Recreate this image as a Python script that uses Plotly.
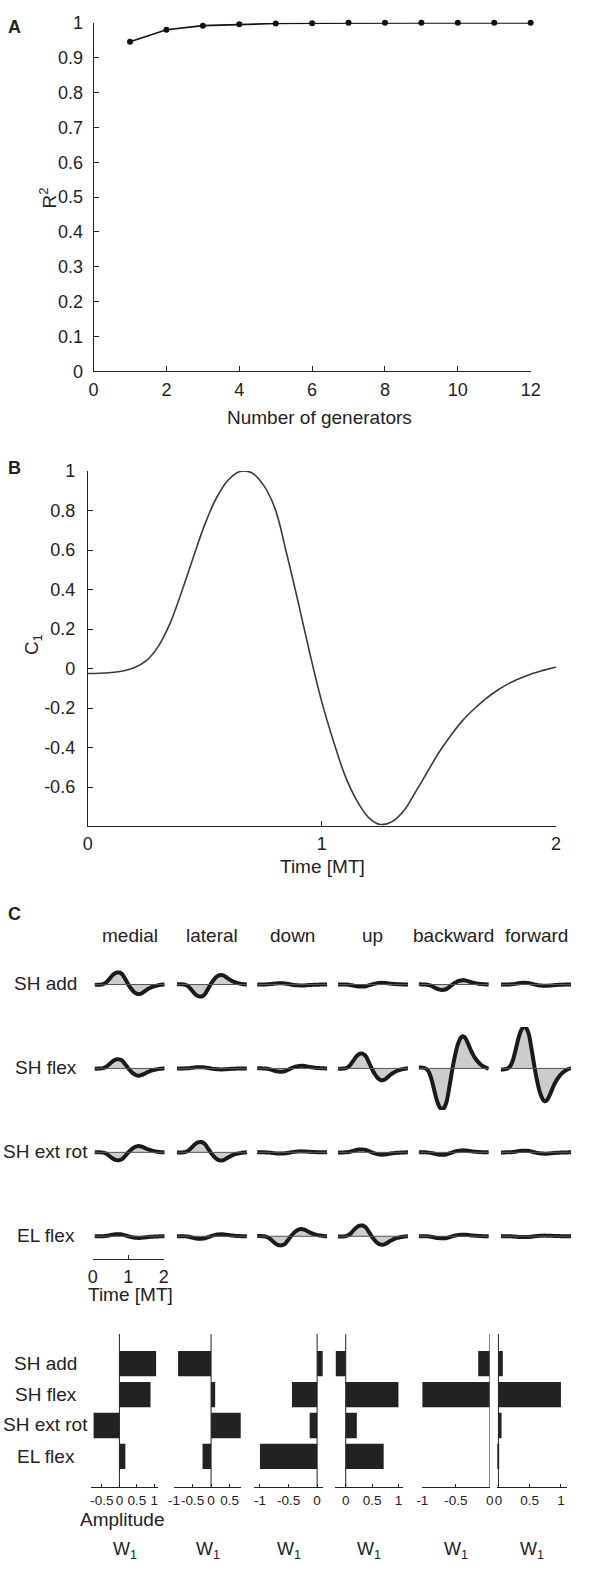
import plotly.graph_objects as go

W_PX, H_PX = 601, 1579
FONT = "Liberation Sans, Arial, Helvetica, sans-serif"
INK = "#222222"

# ---------------- data ----------------
n_generators = [1, 2, 3, 4, 5, 6, 7, 8, 9, 10, 11, 12]
r_squared = [0.946, 0.980, 0.992, 0.996, 0.998, 0.999, 1.0, 1.0, 1.0, 1.0, 1.0, 1.0]

time_mt = [round(0.05 * i, 2) for i in range(41)]
c1_values = [-0.025, -0.024, -0.02, -0.012, 0.005, 0.04, 0.11, 0.225, 0.385, 0.56,
             0.73, 0.865, 0.955, 0.998, 0.992, 0.93, 0.81, 0.58, 0.33, 0.07,
             -0.17, -0.37, -0.545, -0.67, -0.755, -0.79, -0.775, -0.72, -0.625, -0.525,
             -0.425, -0.34, -0.265, -0.205, -0.153, -0.11, -0.075, -0.048, -0.025, -0.008, 0.008]

directions = ["medial", "lateral", "down", "up", "backward", "forward"]
joints = ["SH add", "SH flex", "SH ext rot", "EL flex"]

# amplitude of each displayed profile (profile = amp * C1), rows = joints, cols = directions
profile_amp_sh_add = [0.29, -0.29, 0.03, -0.05, -0.13, 0.04]
profile_amp_sh_flex = [0.22, 0.03, -0.08, 0.36, -0.98, 1.0]
profile_amp_sh_extrot = [-0.19, 0.25, -0.03, 0.07, -0.06, 0.04]
profile_amp_el_flex = [0.05, -0.06, -0.22, 0.26, -0.05, -0.02]
profile_amps = [profile_amp_sh_add, profile_amp_sh_flex, profile_amp_sh_extrot, profile_amp_el_flex]

# W1 amplitudes per direction (SH add, SH flex, SH ext rot, EL flex)
w1_medial = [1.05, 0.89, -0.74, 0.17]
w1_lateral = [-0.89, 0.11, 0.80, -0.23]
w1_down = [0.10, -0.44, -0.13, -1.0]
w1_up = [-0.19, 1.0, 0.21, 0.72]
w1_backward = [-0.17, -1.0, 0.0, 0.0]
w1_forward = [0.07, 1.0, 0.05, -0.02]
w1_all = [w1_medial, w1_lateral, w1_down, w1_up, w1_backward, w1_forward]

bar_ranges = [[-0.8, 1.1], [-1.0, 0.82], [-1.1, 0.1], [-0.2, 1.08], [-1.0, 0.0], [-0.02, 1.09]]
bar_ticks = [[-0.5, 0, 0.5, 1], [-1, -0.5, 0, 0.5], [-1, -0.5, 0], [0, 0.5, 1], [-1, -0.5, 0], [0, 0.5, 1]]


def fmt(v):
    return "%g" % v


# ---------------- layout helpers ----------------
def xd(a, b):
    return [a / W_PX, b / W_PX]


def yd(top, bot):
    return [1 - bot / H_PX, 1 - top / H_PX]


fig = go.Figure()
layout = dict(
    width=W_PX, height=H_PX, margin=dict(l=0, r=0, t=0, b=0),
    paper_bgcolor="white", plot_bgcolor="white", showlegend=False,
    font=dict(family=FONT, size=18, color=INK),
)
annotations = []
shapes = []


def ann(text, x, y, size=19, bold=False, angle=0, xanchor="center"):
    if bold:
        text = "<b>%s</b>" % text
    annotations.append(dict(text=text, x=x / W_PX, y=1 - y / H_PX, xref="paper", yref="paper",
                            showarrow=False, xanchor=xanchor, yanchor="middle",
                            textangle=angle, font=dict(family=FONT, size=size, color=INK)))


axis_common = dict(showgrid=False, zeroline=False, showline=True, linecolor=INK, linewidth=1,
                   ticks="inside", tickcolor=INK, tickwidth=1, tickangle=0)

# ---------------- Panel A ----------------
layout["xaxis"] = dict(axis_common, domain=xd(90, 539), range=[0, 12], anchor="y",
                       tickvals=[0, 2, 4, 6, 8, 10, 12], ticklen=5, tickfont=dict(size=18),
                       ticklabelstandoff=2)
yt = [i / 10 for i in range(11)]
layout["yaxis"] = dict(axis_common, domain=yd(13, 366), range=[0, 1], anchor="x",
                       tickvals=yt, ticktext=[fmt(v) for v in yt], ticklen=5,
                       tickfont=dict(size=18), ticklabelstandoff=6)
fig.add_trace(go.Scatter(x=n_generators, y=r_squared, mode="lines+markers", xaxis="x", yaxis="y",
                         line=dict(color="#111", width=1.6), marker=dict(size=6, color="#111"),
                         cliponaxis=False))
ann("A", 9, 17, size=18, bold=True)
ann("Number of generators", 322, 413)
ann("R<sup>2</sup>", 43, 190, angle=-90)

# ---------------- Panel B ----------------
layout["xaxis2"] = dict(axis_common, domain=xd(84, 565), range=[0, 2], anchor="y2",
                        tickvals=[0, 1, 2], ticklen=5, tickfont=dict(size=18), ticklabelstandoff=2)
ybt = [-0.6, -0.4, -0.2, 0, 0.2, 0.4, 0.6, 0.8, 1]
layout["yaxis2"] = dict(axis_common, domain=yd(467, 826), range=[-0.795, 1], anchor="x2",
                        tickvals=ybt, ticktext=[fmt(v) for v in ybt], ticklen=5,
                        tickfont=dict(size=18), ticklabelstandoff=8)
fig.add_trace(go.Scatter(x=time_mt, y=c1_values, mode="lines", xaxis="x2", yaxis="y2",
                         line=dict(color="#3a3a3a", width=1.6, shape="spline"), cliponaxis=False))
ann("B", 9, 464, size=18, bold=True)
ann("Time [MT]", 325, 867)
ann("C<sub>1</sub>", 28, 643, angle=-90)

# ---------------- Panel C profiles ----------------
col_x0 = [91, 175.5, 258, 341, 424, 508.5]
col_w = 72
row_base = [987, 1072, 1157, 1242]
half_h = 42
ann("C", 9, 916, size=18, bold=True)
for c, d in enumerate(directions):
    ann(d, col_x0[c] + col_w / 2, 937)
for r, j in enumerate(joints):
    ann(j, 41, row_base[r] - 1)

for r in range(4):
    for c in range(6):
        idx = 3 + r * 6 + c
        xa, ya = "x%d" % idx, "y%d" % idx
        layout["xaxis%d" % idx] = dict(domain=xd(col_x0[c], col_x0[c] + col_w), range=[0, 2],
                                       visible=False, anchor=ya)
        layout["yaxis%d" % idx] = dict(domain=yd(row_base[r] - half_h, row_base[r] + half_h),
                                       range=[-1, 1], visible=False, anchor=xa)
        amp = profile_amps[r][c]
        vals = [amp * v for v in c1_values]
        fig.add_trace(go.Scatter(x=time_mt, y=vals, mode="lines", xaxis=xa, yaxis=ya,
                                 fill="tozeroy", fillcolor="#cdcdcd",
                                 line=dict(width=0, shape="spline", color="#cdcdcd"),
                                 cliponaxis=False))
        fig.add_trace(go.Scatter(x=time_mt, y=vals, mode="lines", xaxis=xa, yaxis=ya,
                                 line=dict(width=4, shape="spline", color="#1a1a1a"),
                                 cliponaxis=False))
        shapes.append(dict(type="line", xref="%s domain" % xa, yref=ya, x0=0, x1=1, y0=0, y1=0,
                           line=dict(color="#555", width=1), layer="above"))

# time scale bar
layout["xaxis33"] = dict(axis_common, domain=xd(89, 162), range=[0, 2], anchor="y33",
                         tickvals=[0, 1, 2], ticklen=4, tickfont=dict(size=18), ticklabelstandoff=1)
layout["yaxis33"] = dict(domain=yd(1255, 1265), range=[0, 1], visible=False, anchor="x33")
fig.add_trace(go.Scatter(x=[], y=[], xaxis="x33", yaxis="y33", mode="lines"))
ann("Time [MT]", 128, 1301)

# ---------------- Panel C bars ----------------
bar_x = [(87.8, 156), (172.6, 241.9), (255, 325.5), (338.2, 407.5), (427.6, 496.9), (504.6, 575.9)]
for c in range(6):
    idx = 27 + c
    xa, ya = "x%d" % idx, "y%d" % idx
    layout["xaxis%d" % idx] = dict(axis_common, domain=xd(*bar_x[c]), range=bar_ranges[c],
                                   anchor=ya, tickvals=bar_ticks[c],
                                   ticktext=[fmt(v) for v in bar_ticks[c]], ticklen=3,
                                   tickfont=dict(size=13.5), ticklabelstandoff=1)
    layout["yaxis%d" % idx] = dict(domain=yd(1341, 1496), type="category",
                                   categoryorder="array", categoryarray=joints,
                                   range=[3.99, -0.96], visible=False, anchor=xa)
    fig.add_trace(go.Bar(x=w1_all[c], y=joints, orientation="h", xaxis=xa, yaxis=ya,
                         width=0.82, marker=dict(color="#222", line=dict(width=0))))
    shapes.append(dict(type="line", xref=xa, yref="%s domain" % ya, x0=0, x1=0, y0=0, y1=1,
                       line=dict(color=INK, width=1), layer="above"))
    ann("W<sub>1</sub>", (bar_x[c][0] + bar_x[c][1]) / 2, 1560, size=18)

bar_row_y = [1371, 1402, 1433, 1465]
for r, j in enumerate(joints):
    ann(j, 41, bar_row_y[r])
ann("Amplitude", 120, 1529)

layout["annotations"] = annotations
layout["shapes"] = shapes
fig.update_layout(**layout)
fig.write_html("out.html", config={"displayModeBar": False},
               post_script="document.body.style.margin='0';")
